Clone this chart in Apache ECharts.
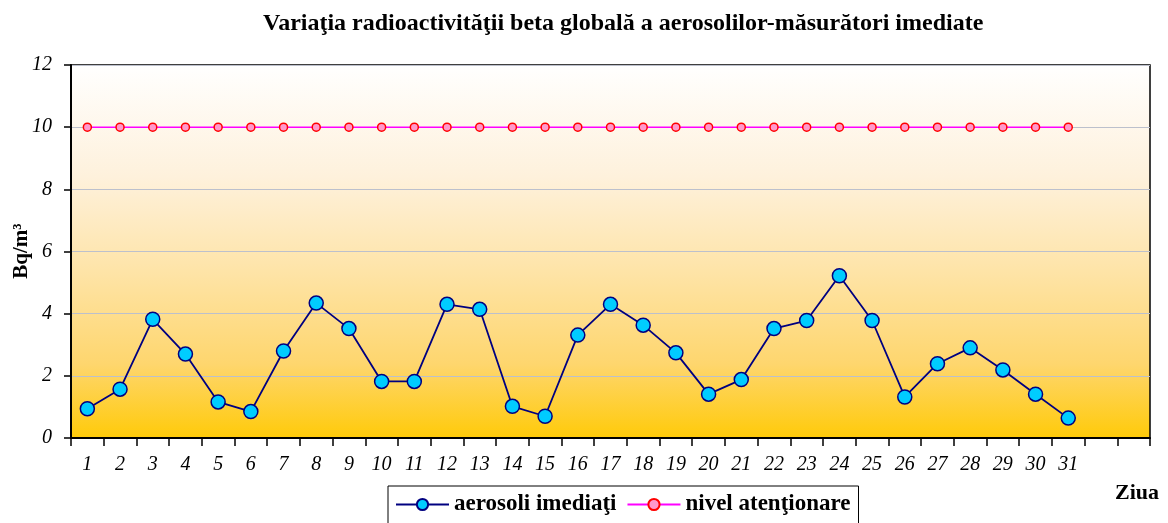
<!DOCTYPE html>
<html>
<head>
<meta charset="utf-8">
<script src="https://cdn.jsdelivr.net/npm/echarts@6/dist/echarts.min.js"></script>
<style>
  html, body { margin: 0; padding: 0; background: #fff; }
  #chart { width: 1168px; height: 523px; }
</style>
</head>
<body>
<div id="chart"></div>
<script>
// zilele lunii (+2 locuri goale la capat, ca in original)
var days = ['1','2','3','4','5','6','7','8','9','10','11','12','13','14','15','16',
  '17','18','19','20','21','22','23','24','25','26','27','28','29','30','31','',''];
// aerosoli imediati, Bq/m3
var aerosoli = [0.94, 1.57, 3.82, 2.70, 1.16, 0.85, 2.80, 4.34, 3.52, 1.82, 1.82,
  4.30, 4.14, 1.02, 0.70, 3.31, 4.30, 3.63, 2.74, 1.41, 1.88, 3.52, 3.78,
  5.22, 3.78, 1.32, 2.39, 2.90, 2.19, 1.41, 0.64];
// nivel de atentionare
var nivel = [10,10,10,10,10,10,10,10,10,10,10,10,10,10,10,10,
  10,10,10,10,10,10,10,10,10,10,10,10,10,10,10];
var yTicks = [0, 2, 4, 6, 8, 10, 12];

var serif = '"Liberation Serif", "Times New Roman", serif';
var chart = echarts.init(document.getElementById('chart'));

var option = {
  animation: false,
  title: {
    text: 'Variaţia radioactivităţii beta globală a aerosolilor-măsurători imediate',
    left: 258,
    top: 7,
    textStyle: { fontFamily: serif, fontWeight: 'bold', fontSize: 24, color: '#000' }
  },
  grid: {
    left: 71,
    right: 18,
    top: 65,
    bottom: 85,
    outerBoundsMode: 'none',
    show: true,
    borderColor: '#000',
    borderWidth: 1.5,
    backgroundColor: new echarts.graphic.LinearGradient(0, 0, 0, 1, [
      { offset: 0, color: '#FFFFFF' },
      { offset: 0.3, color: '#FEF1DC' },
      { offset: 0.55, color: '#FEE4A8' },
      { offset: 0.8, color: '#FED66E' },
      { offset: 1, color: '#FFCA08' }
    ])
  },
  legend: {
    left: 388,
    top: 486,
    padding: [7, 8, 12, 7],
    borderColor: '#000',
    borderWidth: 1,
    itemWidth: 53,
    itemHeight: 14,
    itemGap: 10,
    textStyle: { fontFamily: serif, fontWeight: 'bold', fontSize: 23, color: '#000' },
    data: ['aerosoli imediaţi', 'nivel atenţionare']
  },
  xAxis: {
    type: 'category',
    data: days,
    boundaryGap: true,
    axisLine: { lineStyle: { color: '#000', width: 2 } },
    axisTick: { show: true, interval: 0, length: 8, lineStyle: { color: '#000', width: 1.5 } },
    axisLabel: {
      interval: 0,
      margin: 17,
      fontFamily: serif,
      fontStyle: 'italic',
      fontSize: 20,
      color: '#000'
    },
    splitLine: { show: false }
  },
  yAxis: {
    type: 'value',
    min: 0,
    max: 12,
    interval: 2,
    axisLine: { show: true, lineStyle: { color: '#000', width: 2 } },
    axisTick: { show: true, length: 7, lineStyle: { color: '#000', width: 1.5 } },
    axisLabel: {
      margin: 19,
      fontFamily: serif,
      fontStyle: 'italic',
      fontSize: 20,
      color: '#000',
      formatter: function (v) { return yTicks.indexOf(v) >= 0 ? String(v) : ''; }
    },
    splitLine: { show: true, lineStyle: { color: '#BCC0CC', width: 1.2 } }
  },
  graphic: [
    {
      // titlul axei Y
      type: 'text',
      x: 22,
      y: 251,
      rotation: Math.PI / 2,
      style: {
        text: 'Bq/m³',
        font: 'bold 21px ' + serif,
        fill: '#000',
        align: 'center',
        verticalAlign: 'middle'
      }
    },
    {
      // titlul axei X
      type: 'text',
      right: 9,
      top: 482,
      style: { text: 'Ziua', font: 'bold 22px ' + serif, fill: '#000' }
    }
  ],
  series: [
    {
      name: 'aerosoli imediaţi',
      type: 'line',
      data: aerosoli,
      symbol: 'circle',
      symbolSize: 14,
      z: 3,
      lineStyle: { color: '#000080', width: 1.8 },
      itemStyle: { color: '#00CCFF', borderColor: '#000080', borderWidth: 1.5 }
    },
    {
      name: 'nivel atenţionare',
      type: 'line',
      data: nivel,
      symbol: 'circle',
      symbolSize: 8,
      z: 2,
      lineStyle: { color: '#FF00FF', width: 1.5 },
      itemStyle: { color: '#FF99CC', borderColor: '#FF0000', borderWidth: 1.5 }
    }
  ]
};

chart.setOption(option);
</script>
</body>
</html>
